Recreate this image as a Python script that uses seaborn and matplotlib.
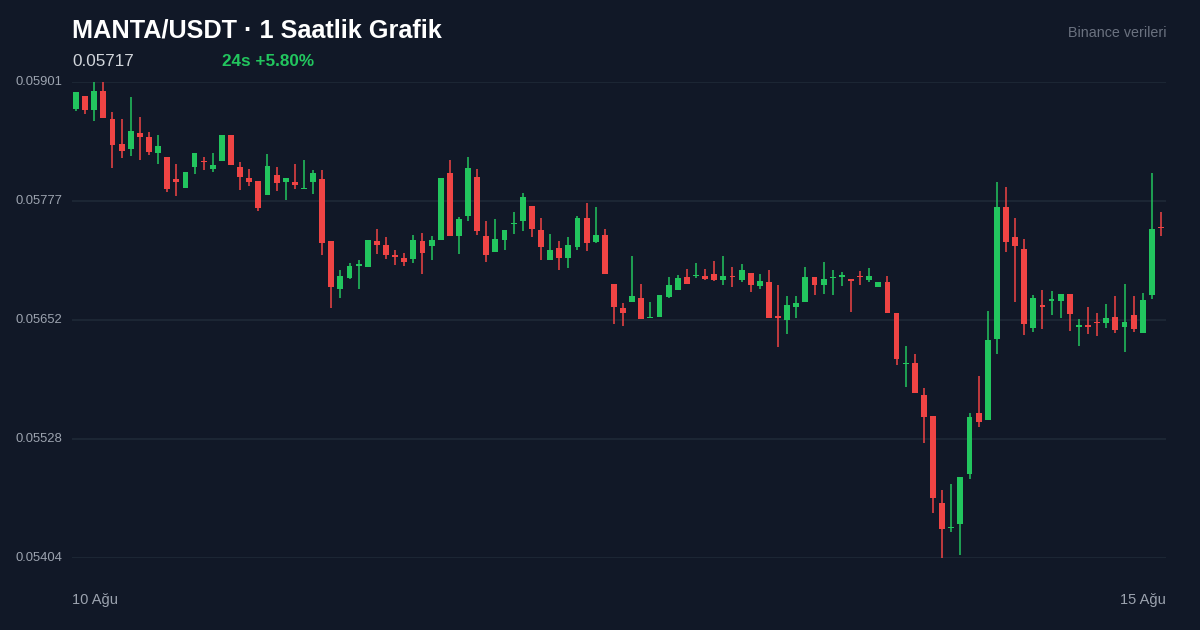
import numpy as np
import pandas as pd
import seaborn as sns
import matplotlib
matplotlib.use("Agg")
import matplotlib.pyplot as plt
import matplotlib.transforms as mtransforms

# prices in units of 1e-5
opens = [5873,5886,5872,5892,5862,5836,5831,5848,5844,5827,5823,5800,5790,5812,5819,5810,5819,5846,5812,5801,
         5798,5783,5804,5797,5797,5789,5797,5800,5735,5685,5696,5709,5708,5735,5731,5720,5717,5716,5735,5730,
         5736,5806,5740,5761,5802,5740,5724,5736,5753,5756,5772,5746,5715,5728,5717,5729,5759,5734,5741,5690,
         5665,5671,5675,5655,5656,5676,5684,5697,5698,5698,5701,5694,5698,5694,5702,5688,5692,5657,5653,5666,
         5671,5697,5689,5696,5697,5695,5698,5694,5687,5692,5660,5607,5608,5574,5552,5461,5435,5439,5492,5555,
         5548,5633,5771,5739,5727,5644,5668,5672,5672,5680,5645,5647,5650,5649,5656,5645,5658,5639,5679,5750]
highs = [5891,5886,5901,5901,5870,5862,5885,5864,5849,5846,5823,5815,5807,5827,5823,5827,5846,5846,5817,5810,
         5798,5826,5812,5801,5815,5820,5809,5809,5735,5705,5712,5715,5736,5748,5739,5726,5722,5741,5743,5740,
         5801,5820,5760,5823,5810,5756,5758,5746,5765,5785,5772,5759,5742,5735,5739,5761,5775,5771,5747,5690,
         5670,5719,5690,5671,5679,5697,5699,5706,5712,5706,5714,5719,5708,5711,5702,5701,5705,5689,5678,5678,
         5708,5697,5713,5705,5703,5695,5704,5707,5692,5698,5660,5625,5617,5581,5552,5475,5481,5489,5555,5594,
         5662,5797,5791,5759,5737,5679,5684,5683,5680,5680,5654,5666,5660,5669,5678,5690,5678,5681,5806,5765]
lows = [5871,5868,5860,5863,5811,5822,5824,5820,5825,5815,5786,5782,5790,5805,5809,5807,5819,5814,5788,5792,
        5766,5783,5787,5778,5789,5789,5784,5720,5665,5675,5695,5685,5708,5721,5716,5710,5709,5712,5701,5715,
        5736,5740,5721,5756,5741,5713,5724,5726,5742,5745,5739,5715,5715,5705,5707,5726,5725,5733,5701,5648,
        5646,5671,5654,5655,5656,5675,5684,5690,5696,5694,5693,5689,5687,5692,5682,5685,5655,5624,5638,5655,
        5671,5679,5680,5679,5688,5661,5689,5692,5687,5660,5606,5583,5576,5524,5451,5404,5431,5407,5487,5541,
        5548,5617,5724,5671,5637,5640,5643,5658,5655,5641,5625,5638,5636,5644,5639,5619,5640,5639,5674,5740]
closes = [5891,5872,5892,5863,5835,5829,5850,5844,5828,5834,5789,5797,5807,5827,5817,5814,5846,5814,5802,5797,
          5769,5813,5796,5801,5793,5790,5806,5733,5687,5698,5709,5711,5736,5731,5720,5718,5713,5736,5722,5736,
          5801,5740,5758,5811,5745,5720,5737,5746,5754,5781,5748,5729,5726,5717,5731,5759,5733,5741,5701,5666,
          5660,5678,5654,5656,5679,5689,5696,5690,5700,5695,5694,5698,5697,5705,5689,5693,5655,5655,5668,5670,
          5697,5689,5695,5697,5700,5693,5697,5698,5692,5660,5612,5608,5576,5551,5467,5434,5436,5489,5551,5546,
          5632,5771,5734,5730,5648,5675,5666,5674,5680,5659,5647,5645,5649,5655,5642,5650,5643,5673,5748,5749]
y_ticks = [0.05901, 0.05777, 0.05652, 0.05528, 0.05404]
x_labels = ["10 Ağu", "15 Ağu"]

df = pd.DataFrame({"o": opens, "h": highs, "l": lows, "c": closes}) / 1e5
df["i"] = np.arange(len(df))
df["up"] = df["c"] >= df["o"]

BG = "#111827"
GREEN = "#22c55e"
RED = "#ef4444"
sns.set_theme(style="dark")
plt.rcParams["font.family"] = ["Liberation Sans", "DejaVu Sans"]

fig = plt.figure(figsize=(12, 6.3), dpi=100, facecolor=BG)
ax = fig.add_axes([72/1200, 1-558/630, (1166-72)/1200, (558-82)/630])
ax.set_facecolor(BG)
for s in ax.spines.values():
    s.set_visible(False)
ax.set_xlim(-0.44, 119.55)
ax.set_ylim(0.05404, 0.05901)
for t in y_ticks:
    ax.axhline(t, color="#1f2937", lw=1.2, zorder=0)
ax.set_xticks([]); ax.set_yticks([])

cols = np.where(df["up"], GREEN, RED)
ax.vlines(df["i"], df["l"], df["h"], colors=cols, lw=1.1, zorder=2, clip_on=False)
bottom = np.minimum(df["o"], df["c"])
height = np.maximum(np.abs(df["c"] - df["o"]), 0.000004)
ax.bar(df["i"], height, bottom=bottom, width=0.64, color=cols, zorder=3, clip_on=False, linewidth=0)

tr = mtransforms.blended_transform_factory(fig.transFigure, ax.transData)
for t in y_ticks:
    ax.text(15/1200, t, f"{t:.5f}", transform=tr, color="#9ca3af", fontsize=9.4, va="center", ha="left")

fig.text(72/1200, 1-600/630, x_labels[0], color="#9ca3af", fontsize=10.5, va="center", ha="left")
fig.text(1166/1200, 1-600/630, x_labels[1], color="#9ca3af", fontsize=10.5, va="center", ha="right")
fig.text(72/1200, 1-30/630, "MANTA/USDT · 1 Saatlik Grafik", color="white", fontsize=18.2, fontweight="bold", va="center", ha="left")
fig.text(72/1200, 1-61/630, "0.05717", color="#d1d5db", fontsize=12.3, va="center", ha="left")
fig.text(222/1200, 1-61/630, "24s +5.80%", color=GREEN, fontsize=12.3, fontweight="bold", va="center", ha="left")
fig.text(1166/1200, 1-33/630, "Binance verileri", color="#6b7280", fontsize=10.3, va="center", ha="right")

fig.savefig("out.png", dpi=100, facecolor=BG)
